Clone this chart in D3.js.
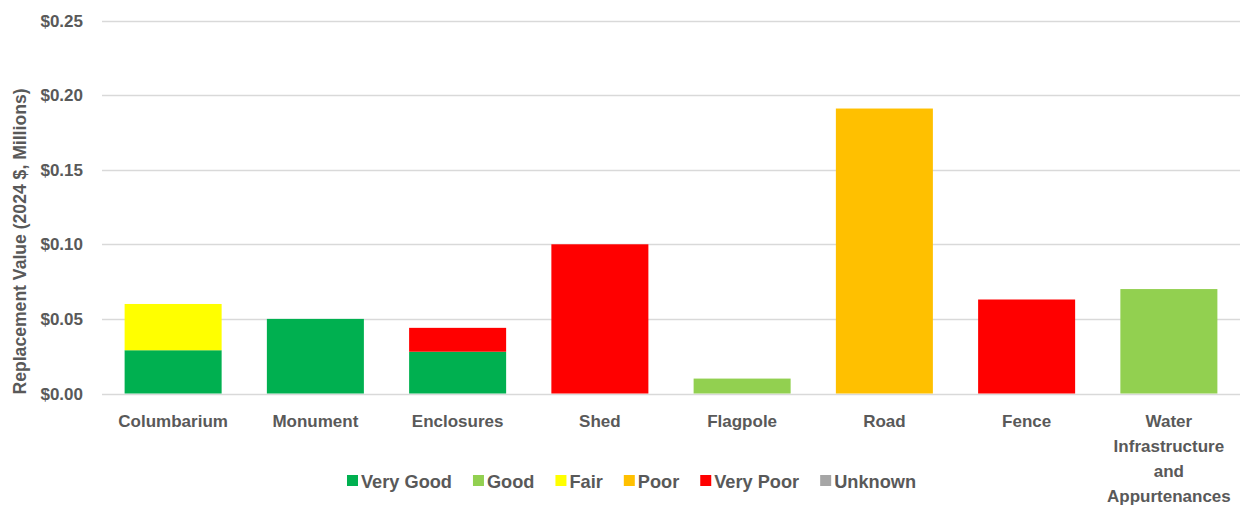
<!DOCTYPE html>
<html>
<head>
<meta charset="utf-8">
<script src="https://cdn.jsdelivr.net/npm/d3@7"></script>
<style>
  html, body { margin: 0; padding: 0; background: #fff; }
  svg { display: block; font-family: "Liberation Sans", Arial, sans-serif; }
</style>
</head>
<body>
<svg id="chart" width="1241" height="506"></svg>
<script>
const categories = ["Columbarium", "Monument", "Enclosures", "Shed", "Flagpole", "Road", "Fence", "Water Infrastructure and Appurtenances"];
const categoryLines = [["Columbarium"], ["Monument"], ["Enclosures"], ["Shed"], ["Flagpole"], ["Road"], ["Fence"], ["Water", "Infrastructure", "and", "Appurtenances"]];
const seriesNames = ["Very Good", "Good", "Fair", "Poor", "Very Poor", "Unknown"];
const seriesColors = ["#00B050", "#92D050", "#FFFF00", "#FFC000", "#FF0000", "#A6A6A6"];
const veryGood = [0.029, 0.050, 0.028, 0, 0, 0, 0, 0];
const good     = [0, 0, 0, 0, 0.010, 0, 0, 0.070];
const fair     = [0.031, 0, 0, 0, 0, 0, 0, 0];
const poor     = [0, 0, 0, 0, 0, 0.191, 0, 0];
const veryPoor = [0, 0, 0.016, 0.100, 0, 0, 0.063, 0];
const unknown  = [0, 0, 0, 0, 0, 0, 0, 0];
const yTicks = [0, 0.05, 0.10, 0.15, 0.20, 0.25];
const yTitle = "Replacement Value (2024 $, Millions)";

const seriesValues = [veryGood, good, fair, poor, veryPoor, unknown];
const table = categories.map((c, i) => {
  const row = { category: c };
  seriesNames.forEach((s, k) => row[s] = seriesValues[k][i]);
  return row;
});

const svg = d3.select("#chart");
const textColor = "#595959";

const x = d3.scaleBand().domain(categories).range([102, 1240]).paddingInner(0.318).paddingOuter(0.159);
const y = d3.scaleLinear().domain([0, 0.25]).range([393.5, 20.5]);
const color = d3.scaleOrdinal().domain(seriesNames).range(seriesColors);

// gridlines
svg.append("g").selectAll("line").data(yTicks).join("line")
  .attr("x1", 102).attr("x2", 1240)
  .attr("y1", d => Math.round(y(d)) + 0.5).attr("y2", d => Math.round(y(d)) + 0.5)
  .attr("stroke", "#D9D9D9").attr("stroke-width", 1.3);

// y tick labels
svg.append("g").selectAll("text").data(yTicks).join("text")
  .attr("x", 83).attr("y", d => y(d))
  .attr("dy", "0.36em")
  .attr("text-anchor", "end")
  .attr("font-size", 17).attr("font-weight", "bold")
  .attr("fill", textColor)
  .text(d => "$" + d3.format(".2f")(d));

// y title
svg.append("text")
  .attr("transform", "translate(26,241.5) rotate(-90)")
  .attr("text-anchor", "middle")
  .attr("font-size", 17.6).attr("font-weight", "bold")
  .attr("fill", textColor)
  .text(yTitle);

// stacked bars
const stack = d3.stack().keys(seriesNames);
const stacked = stack(table);
svg.append("g").selectAll("g").data(stacked).join("g")
  .attr("fill", d => color(d.key))
  .selectAll("rect").data(d => d.filter(p => p[1] - p[0] > 0)).join("rect")
  .attr("x", d => x(d.data.category))
  .attr("width", x.bandwidth())
  .attr("y", d => y(d[1]))
  .attr("height", d => y(d[0]) - y(d[1]));

// category labels
const catG = svg.append("g");
categories.forEach((c, i) => {
  const t = catG.append("text")
    .attr("x", x(c) + x.bandwidth() / 2)
    .attr("y", 426.5)
    .attr("text-anchor", "middle")
    .attr("font-size", 17).attr("font-weight", "bold")
    .attr("fill", textColor);
  categoryLines[i].forEach((line, j) => {
    t.append("tspan").attr("x", x(c) + x.bandwidth() / 2).attr("dy", j === 0 ? 0 : 25).text(line);
  });
});

// legend
const legend = svg.append("g");
const items = [];
seriesNames.forEach((s, k) => {
  const g = legend.append("g");
  g.append("rect").attr("x", 0).attr("y", -6).attr("width", 11).attr("height", 11).attr("fill", seriesColors[k]);
  const t = g.append("text").attr("x", 14).attr("y", 0).attr("dy", "0.36em")
    .attr("font-size", 18.2).attr("font-weight", "bold").attr("fill", textColor).text(s);
  const w = 14 + t.node().getComputedTextLength();
  items.push({ g, w });
});
const gap = 21;
const total = items.reduce((a, b) => a + b.w, 0) + gap * (items.length - 1);
let lx = 631.5 - total / 2;
items.forEach(it => { it.g.attr("transform", `translate(${lx},481)`); lx += it.w + gap; });
</script>
</body>
</html>
